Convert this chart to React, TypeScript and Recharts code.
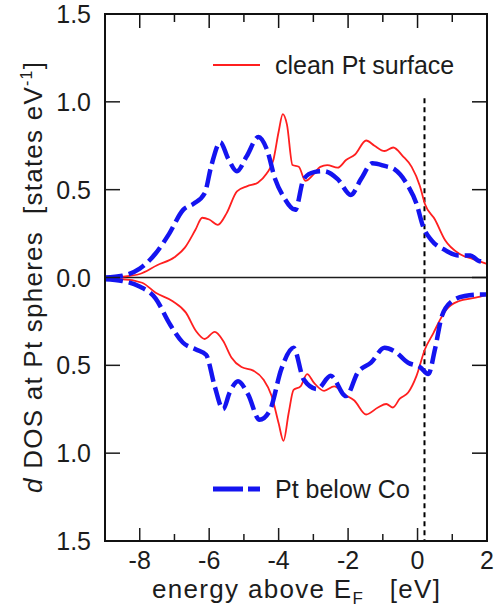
import React from "react";
import { LineChart, Line, XAxis, YAxis, ReferenceLine } from "recharts";

// clean Pt surface, majority (upper panel)
const redUpE = [-9, -8.5, -8, -7.5, -7, -6.7, -6.4, -6.2, -6, -5.75, -5.5, -5.2, -4.9, -4.6, -4.35, -4.15, -4, -3.88, -3.76, -3.6, -3.42, -3.23, -3.03, -2.8, -2.6, -2.3, -2.05, -1.8, -1.48, -1.24, -0.95, -0.7, -0.42, -0.17, 0.07, 0.21, 0.5, 0.8, 1.2, 1.6, 2];
const redUpV = [0, 0.005, 0.02, 0.07, 0.115, 0.17, 0.27, 0.34, 0.33, 0.3, 0.365, 0.49, 0.52, 0.54, 0.59, 0.67, 0.83, 0.93, 0.87, 0.64, 0.63, 0.55, 0.58, 0.63, 0.64, 0.625, 0.67, 0.7, 0.78, 0.75, 0.72, 0.74, 0.69, 0.63, 0.52, 0.42, 0.33, 0.21, 0.135, 0.105, 0.077];

// Pt below Co, majority
const blueUpE = [-9, -8.5, -8, -7.55, -7.15, -6.75, -6.45, -6.13, -5.94, -5.68, -5.46, -5.2, -4.92, -4.58, -4.34, -4.1, -3.86, -3.52, -3.28, -2.98, -2.7, -2.3, -1.92, -1.63, -1.3, -0.95, -0.66, -0.27, -0.03, 0.16, 0.41, 0.8, 1.18, 1.52, 1.76, 2];
const blueUpV = [0, 0.01, 0.05, 0.135, 0.25, 0.385, 0.42, 0.48, 0.635, 0.77, 0.68, 0.605, 0.69, 0.8, 0.73, 0.56, 0.46, 0.385, 0.56, 0.6, 0.605, 0.56, 0.47, 0.56, 0.65, 0.635, 0.615, 0.52, 0.42, 0.29, 0.21, 0.155, 0.125, 0.125, 0.095, 0.087];

// clean Pt surface, minority (lower panel, plotted negative)
const redDnE = [-9, -8.5, -7.93, -7.54, -7.05, -6.67, -6.38, -6.13, -5.84, -5.6, -5.36, -5.07, -4.73, -4.44, -4.2, -4, -3.86, -3.71, -3.57, -3.37, -3.18, -2.98, -2.69, -2.4, -2.11, -1.82, -1.48, -1.14, -0.9, -0.71, -0.51, -0.27, -0.03, 0.21, 0.46, 0.65, 0.84, 1.18, 1.67, 2];
const redDnV = [-0.01, -0.01, -0.03, -0.087, -0.135, -0.2, -0.305, -0.35, -0.31, -0.36, -0.455, -0.51, -0.53, -0.58, -0.675, -0.83, -0.93, -0.77, -0.64, -0.62, -0.55, -0.6, -0.645, -0.62, -0.665, -0.7, -0.78, -0.74, -0.72, -0.74, -0.69, -0.655, -0.56, -0.41, -0.315, -0.24, -0.18, -0.135, -0.115, -0.097];

// Pt below Co, minority
const blueDnE = [-9, -8.5, -8.02, -7.54, -7.15, -6.76, -6.38, -6.09, -5.84, -5.6, -5.41, -5.17, -4.88, -4.55, -4.26, -3.92, -3.57, -3.28, -2.89, -2.5, -2.06, -1.72, -1.34, -0.95, -0.66, -0.27, 0.07, 0.31, 0.5, 0.7, 0.99, 1.36, 1.76, 2];
const blueDnV = [-0.01, -0.02, -0.05, -0.12, -0.26, -0.37, -0.41, -0.44, -0.62, -0.75, -0.655, -0.59, -0.665, -0.81, -0.76, -0.52, -0.4, -0.58, -0.635, -0.56, -0.675, -0.54, -0.485, -0.4, -0.42, -0.485, -0.51, -0.55, -0.41, -0.22, -0.135, -0.105, -0.097, -0.097];

const xMin = -9;
const xMax = 2;
const yMin = -1.5;
const yMax = 1.5;
const xTicks = [-9, -8, -7, -6, -5, -4, -3, -2, -1, 0, 1, 2];
const yTicks = [-1.5, -1, -0.5, 0, 0.5, 1, 1.5];
const fermiX = 0.2;
const seriesNames = ["clean Pt surface", "Pt below Co"];

const W = 504;
const H = 614;
const M = { top: 14, right: 17, bottom: 0, left: 0 };
const Y_AXIS_W = 105;
const X_AXIS_H = 73;
const FONT = '"Liberation Sans", Arial, sans-serif';
const INK = "#1c1c1c";
const RED = "#ff1f1f";
const BLUE = "#1414f0";

// plot box, the same numbers the chart gets through margin and axis sizes
const plotL = M.left + Y_AXIS_W;
const plotR = W - M.right;
const plotT = M.top;
const plotB = H - M.bottom - X_AXIS_H;
const px = (v: number) => plotL + ((v - xMin) / (xMax - xMin)) * (plotR - plotL);
const py = (v: number) => plotB - ((v - yMin) / (yMax - yMin)) * (plotB - plotT);

const toPoints = (e: number[], v: number[]) => e.map((x, i) => ({ e: x, v: v[i] }));
const isMajor = (v: number) => v % 2 === 0;

// bottom / left ticks: Recharts hands over the axis-line position (tickSize and tickMargin are 0),
// the tick marks point into the plot like in the original figure
const BottomTick = (props: any) => {
  const { x, y, payload } = props;
  const val = payload.value;
  const major = isMajor(val);
  return (
    <g>
      <line x1={x} x2={x} y1={y} y2={y - (major ? 13 : 7)} stroke={INK} strokeWidth={1.5} />
      {major && (
        <text x={x} y={y + 28} textAnchor="middle" fontSize={25} fontFamily={FONT} fill={INK}>
          {val}
        </text>
      )}
    </g>
  );
};

const LeftTick = (props: any) => {
  const { x, y, payload } = props;
  return (
    <g>
      <line x1={x} x2={x + 15} y1={y} y2={y} stroke={INK} strokeWidth={1.5} />
      <text x={x - 14} y={y} dy={9} textAnchor="end" fontSize={25} fontFamily={FONT} fill={INK}>
        {Math.abs(payload.value).toFixed(1)}
      </text>
    </g>
  );
};

export default function App() {
  const axisLine = { stroke: INK, strokeWidth: 1.5 };
  return (
    <div style={{ position: "absolute", left: 0, top: 0, width: W, height: H, overflow: "hidden" }}>
      <LineChart width={W} height={H} margin={M}>
        <XAxis
          dataKey="e"
          type="number"
          domain={[xMin, xMax]}
          ticks={xTicks}
          interval={0}
          height={X_AXIS_H}
          tickSize={0}
          tickMargin={0}
          tickLine={false}
          axisLine={axisLine}
          tick={<BottomTick />}
        />
        <YAxis
          type="number"
          domain={[yMin, yMax]}
          ticks={yTicks}
          interval={0}
          width={Y_AXIS_W}
          tickSize={0}
          tickMargin={0}
          tickLine={false}
          axisLine={axisLine}
          tick={<LeftTick />}
        />
        <ReferenceLine y={0} stroke={INK} strokeWidth={1.5} />
        <ReferenceLine
          segment={[{ x: fermiX, y: 1.02 }, { x: fermiX, y: yMin }]}
          stroke="#000"
          strokeWidth={2}
          strokeDasharray="5 4"
        />
        <Line data={toPoints(redUpE, redUpV)} dataKey="v" type="monotone" stroke={RED} strokeWidth={1.8} dot={false} activeDot={false} isAnimationActive={false} />
        <Line data={toPoints(redDnE, redDnV)} dataKey="v" type="monotone" stroke={RED} strokeWidth={1.8} dot={false} activeDot={false} isAnimationActive={false} />
        <Line data={toPoints(blueUpE, blueUpV)} dataKey="v" type="monotone" stroke={BLUE} strokeWidth={4.5} strokeDasharray="18 6" dot={false} activeDot={false} isAnimationActive={false} />
        <Line data={toPoints(blueDnE, blueDnV)} dataKey="v" type="monotone" stroke={BLUE} strokeWidth={4.5} strokeDasharray="18 6" dot={false} activeDot={false} isAnimationActive={false} />
      </LineChart>
      <svg
        width={W}
        height={H}
        viewBox={`0 0 ${W} ${H}`}
        style={{ position: "absolute", left: 0, top: 0, pointerEvents: "none", zIndex: 5 }}
      >
        {/* full frame with inward ticks on the top and right edges */}
        <rect
          x={plotL}
          y={plotT}
          width={plotR - plotL}
          height={plotB - plotT}
          fill="none"
          stroke="#111"
          strokeWidth={2}
        />
        {xTicks.map((t) => (
          <line
            key={"tx" + t}
            x1={px(t)}
            x2={px(t)}
            y1={plotT}
            y2={plotT + (isMajor(t) ? 14 : 8)}
            stroke="#111"
            strokeWidth={1.5}
          />
        ))}
        {yTicks.map((t) => (
          <line
            key={"ty" + t}
            x1={plotR}
            x2={plotR - 15}
            y1={py(t)}
            y2={py(t)}
            stroke="#111"
            strokeWidth={1.5}
          />
        ))}
        <g fontFamily={FONT} fill={INK}>
          <line x1={213} x2={260} y1={65} y2={65} stroke={RED} strokeWidth={2} />
          <text x={275} y={74} fontSize={25}>{seriesNames[0]}</text>
          <line x1={213} x2={260} y1={489} y2={489} stroke={BLUE} strokeWidth={5} strokeDasharray="30 5" />
          <text x={275} y={498} fontSize={25}>{seriesNames[1]}</text>
          <text
            x={152}
            y={598}
            fontSize={26}
            textLength={288}
            lengthAdjust="spacing"
            style={{ whiteSpace: "pre" }}
          >
            energy above E<tspan fontSize={17} dy={6}>F</tspan>
            <tspan dy={-6}>{"   [eV]"}</tspan>
          </text>
          <text
            x={42}
            y={493}
            fontSize={26}
            textLength={431}
            lengthAdjust="spacing"
            transform="rotate(-90 42 493)"
            style={{ whiteSpace: "pre" }}
          >
            <tspan fontStyle="italic">d</tspan>
            {" DOS at Pt spheres  [states eV"}
            <tspan fontSize={16} dy={-10}>-1</tspan>
            <tspan dy={10}>]</tspan>
          </text>
        </g>
      </svg>
    </div>
  );
}
